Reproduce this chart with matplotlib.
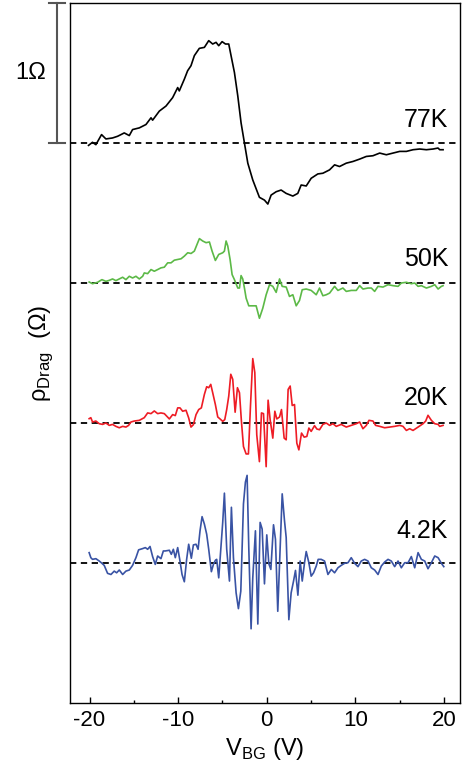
import matplotlib.pyplot as plt
import matplotlib.transforms as mtransforms

plt.rcParams['font.family'] = ['Liberation Sans', 'DejaVu Sans']
plt.rcParams['mathtext.fontset'] = 'custom'
plt.rcParams['mathtext.rm'] = 'Liberation Sans'
plt.rcParams['axes.unicode_minus'] = False

# gate voltage (V) and drag resistivity (Ohm)
v77 = [-20.11, -19.66, -19.28, -18.64, -18.15, -17.40, -16.83, -16.45, -16.08, -15.51,
       -15.14, -14.38, -13.63, -13.06, -12.88, -12.12, -11.37, -10.62, -10.05, -9.87,
       -9.30, -8.93, -8.55, -8.17, -7.61, -7.04, -6.55, -6.10, -5.72, -5.42,
       -5.04, -4.66, -4.29, -4.03, -3.65, -3.27, -2.90, -2.52, -2.14, -1.58,
       -0.83, -0.26, 0.12, 0.49, 1.06, 1.62, 2.19, 2.94, 3.50, 3.88,
       4.45, 5.01, 5.76, 6.33, 7.08, 7.65, 8.21, 8.97, 9.72, 10.48,
       11.23, 11.98, 12.74, 13.49, 14.24, 15.00, 15.75, 16.50, 17.25, 18.01,
       18.76, 19.32, 19.51, 19.89]
r77 = [-0.017, 0.005, -0.012, 0.060, 0.029, 0.036, 0.048, 0.060, 0.072, 0.053,
       0.096, 0.108, 0.132, 0.180, 0.163, 0.228, 0.264, 0.324, 0.396, 0.372,
       0.456, 0.516, 0.552, 0.624, 0.676, 0.683, 0.731, 0.707, 0.719, 0.695,
       0.724, 0.707, 0.707, 0.624, 0.504, 0.336, 0.144, 0.000, -0.144, -0.264,
       -0.388, -0.408, -0.436, -0.372, -0.348, -0.336, -0.360, -0.379, -0.360, -0.300,
       -0.307, -0.252, -0.221, -0.216, -0.192, -0.156, -0.168, -0.144, -0.132, -0.115,
       -0.096, -0.091, -0.072, -0.084, -0.072, -0.060, -0.060, -0.048, -0.043, -0.048,
       -0.043, -0.036, -0.048, -0.048]

v50 = [-20.04, -19.66, -19.09, -18.60, -18.15, -17.77, -17.40, -17.02, -16.64, -16.26,
       -15.89, -15.51, -15.14, -14.76, -14.38, -14.00, -13.82, -13.44, -13.06, -12.69,
       -12.31, -11.94, -11.56, -11.18, -10.80, -10.43, -10.05, -9.67, -9.30, -8.92,
       -8.54, -8.17, -7.79, -7.60, -7.23, -6.85, -6.47, -6.17, -5.80, -5.42,
       -4.97, -4.78, -4.59, -4.40, -4.14, -3.91, -3.65, -3.27, -3.08, -2.90,
       -2.71, -2.52, -2.33, -2.03, -1.58, -1.20, -0.83, -0.45, -0.07, 0.31,
       0.68, 1.06, 1.44, 1.74, 2.19, 2.56, 2.94, 3.32, 3.69, 4.00,
       4.45, 5.01, 5.58, 5.95, 6.33, 6.71, 7.09, 7.65, 8.03, 8.59,
       8.97, 9.53, 10.10, 10.48, 10.85, 11.42, 11.80, 12.17, 12.55, 13.11,
       13.68, 14.24, 14.81, 15.18, 15.75, 16.31, 16.69, 17.07, 17.44, 18.01,
       18.57, 18.95, 19.33, 19.70, 19.89]
r50 = [0.007, -0.005, 0.005, 0.024, 0.012, 0.019, 0.029, 0.017, 0.029, 0.041,
       0.024, 0.048, 0.036, 0.048, 0.029, 0.048, 0.072, 0.067, 0.096, 0.084,
       0.096, 0.108, 0.113, 0.144, 0.144, 0.163, 0.168, 0.173, 0.192, 0.216,
       0.211, 0.228, 0.288, 0.317, 0.300, 0.288, 0.293, 0.228, 0.161, 0.204,
       0.216, 0.228, 0.300, 0.264, 0.168, 0.060, 0.024, -0.036, -0.036, 0.053,
       0.029, -0.036, -0.108, -0.163, -0.163, -0.163, -0.252, -0.180, -0.084, -0.012,
       -0.024, -0.067, 0.029, -0.024, -0.029, -0.096, -0.084, -0.163, -0.125, -0.048,
       -0.043, -0.053, -0.084, -0.036, -0.091, -0.084, -0.072, -0.024, -0.053, -0.036,
       -0.060, -0.053, -0.053, -0.019, -0.043, -0.036, -0.036, -0.060, -0.024, -0.029,
       -0.012, -0.019, -0.024, 0.000, 0.005, -0.005, 0.000, -0.024, -0.019, -0.036,
       -0.024, -0.012, -0.043, -0.024, -0.019]

v20 = [-20.04, -19.85, -19.66, -19.28, -18.90, -18.52, -18.15, -17.77, -17.40, -17.02,
       -16.64, -16.26, -15.89, -15.59, -15.33, -14.95, -14.38, -13.82, -13.44, -13.06,
       -12.69, -12.31, -11.94, -11.56,
       -10.99, -10.62, -10.32, -10.05, -9.79, -9.49, -9.11, -8.81, -8.55, -8.28,
       -7.98, -7.68, -7.38, -7.04, -6.78, -6.55, -6.32, -6.10, -5.80, -5.53,
       -5.27, -4.97, -4.74, -4.52, -4.29, -4.06, -3.84, -3.57, -3.31, -3.08,
       -2.86, -2.63, -2.33, -2.07, -1.84, -1.58, -1.35, -1.13, -0.83, -0.60,
       -0.37, -0.07, 0.15, 0.38, 0.68, 0.91, 1.13, 1.44, 1.66, 1.96,
       2.19, 2.41, 2.64, 2.87, 3.13, 3.39, 3.62, 3.92, 4.22, 4.52,
       4.75, 5.01, 5.39, 5.65, 5.95, 6.33,
       6.71, 7.09, 7.46, 7.84, 8.40, 8.97, 9.53, 10.10, 10.48, 10.85,
       11.23, 11.53, 11.98, 12.28, 12.74, 13.30, 13.87, 14.43, 15.00, 15.37,
       15.75, 16.12, 16.50, 17.07, 17.63, 17.93, 18.19, 18.57, 18.95, 19.33,
       19.51, 19.89]
r20 = [0.031, 0.038, 0.007, 0.014, -0.005, -0.010, 0.000, -0.017, -0.010, -0.024,
       -0.034, -0.024, -0.029, -0.017, 0.007, 0.014, 0.019, 0.038, 0.072, 0.067,
       0.086, 0.067, 0.072, 0.067,
       0.029, 0.060, 0.053, 0.108, 0.108, 0.084, 0.091, 0.036, -0.029, -0.012,
       0.060, 0.096, 0.108, 0.204, 0.259, 0.252, 0.276, 0.216, 0.132, 0.043,
       0.029, 0.012, 0.024, 0.096, 0.192, 0.348, 0.312, 0.077, 0.252, 0.216,
       0.012, -0.168, -0.221, -0.221, 0.120, 0.460, 0.360, -0.084, -0.276, 0.072,
       0.067, -0.312, 0.163, 0.024, -0.108, 0.084, 0.029, 0.043, 0.096, -0.108,
       -0.120, 0.240, 0.264, 0.125, 0.132, -0.144, -0.192, -0.072, -0.101, -0.096,
       -0.036, -0.060, -0.019, -0.043, -0.048, -0.010,
       0.000, -0.017, -0.005, -0.024, -0.010, -0.029, -0.017, -0.005, 0.007, -0.041,
       -0.017, 0.019, 0.014, -0.017, -0.024, -0.034, -0.029, -0.024, -0.017, -0.024,
       -0.053, -0.041, -0.053, -0.029, -0.005, 0.014, 0.055, 0.019, -0.005, -0.010,
       -0.024, -0.017]

v4 = [-20.04, -19.85, -19.66, -19.28, -18.90, -18.60, -18.34, -17.96, -17.58, -17.21,
      -16.94, -16.64, -16.26, -15.89, -15.51, -15.14, -14.76, -14.46, -14.00, -13.70,
      -13.44, -13.17, -12.88, -12.58, -12.31, -11.94, -11.67, -11.45,
      -10.99, -10.77, -10.54, -10.32, -10.05, -9.79, -9.56, -9.30, -9.04, -8.81,
      -8.51, -8.28, -7.98, -7.75, -7.53, -7.30, -7.04, -6.78, -6.55, -6.25,
      -6.02, -5.80, -5.65, -5.42, -5.16, -4.97, -4.78, -4.52, -4.21, -3.99,
      -3.76, -3.46, -3.20, -2.93, -2.63, -2.41, -2.22, -2.03, -1.77, -1.58,
      -1.28, -1.01, -0.75, -0.52, -0.26, 0.00, 0.23, 0.46, 0.76, 0.98,
      1.24, 1.51, 1.74, 2.00, 2.19, 2.49, 2.75, 3.02, 3.24, 3.51,
      3.77, 4.00, 4.26, 4.45, 4.75, 5.01, 5.28, 5.58, 5.80,
      6.14, 6.52, 6.90, 7.28, 7.65, 8.03, 8.40, 8.78, 9.16, 9.53,
      9.91, 10.29, 10.66, 11.04, 11.42, 11.79, 12.17, 12.55, 12.92, 13.30,
      13.68, 14.05, 14.43, 14.81, 15.18, 15.56, 15.94, 16.31, 16.69, 17.07,
      17.44, 17.82, 18.19, 18.57, 18.95, 19.33, 19.70, 19.97]
r4 = [0.074, 0.038, 0.026, 0.031, 0.014, -0.002, -0.017, -0.074, -0.082, -0.058,
      -0.070, -0.050, -0.082, -0.058, -0.050, -0.017, 0.038, 0.094, 0.103, 0.110,
      0.098, 0.118, 0.046, -0.010, 0.050, 0.031, 0.086, 0.086,
      0.091, 0.062, 0.098, 0.038, 0.110, 0.014, -0.082, -0.134, 0.026, 0.134,
      0.034, 0.129, 0.134, 0.098, 0.230, 0.331, 0.278, 0.206, 0.098, -0.062,
      -0.010, 0.019, 0.026, -0.106, 0.122, 0.290, 0.499, 0.098, -0.129, 0.398,
      0.038, -0.213, -0.326, -0.201, 0.422, 0.578, 0.626, 0.110, -0.470, -0.106,
      0.230, -0.436, 0.290, 0.242, -0.149, 0.201, -0.005, -0.046, 0.273, 0.170,
      -0.345, 0.110, 0.494, 0.302, 0.182, -0.405, -0.213, -0.129, -0.053, -0.230,
      0.014, -0.129, 0.002, 0.082, 0.002, -0.094, -0.070, -0.022, 0.026,
      0.026, 0.014, -0.082, -0.046, -0.070, -0.034, -0.017, -0.002, 0.002, 0.038,
      -0.002, -0.026, 0.014, 0.026, 0.014, -0.034, -0.050, -0.082, -0.022, 0.007,
      0.026, 0.014, -0.026, 0.014, -0.034, 0.002, 0.002, 0.046, -0.034, 0.074,
      0.026, 0.014, -0.041, 0.002, 0.050, 0.038, -0.002, -0.026]

curves = [(v77, r77, '77K', '#000000', 3),
          (v50, r50, '50K', '#5cb947', 2),
          (v20, r20, '20K', '#ee1c25', 1),
          (v4, r4, '4.2K', '#3953a4', 0)]
label_lift = [0.08, 0.085, 0.09, 0.14]

fig = plt.figure(figsize=(4.65, 7.72), dpi=100)
ax = fig.add_axes([70/465, 69/772, 390/465, 700/772])

for (v, r, name, col, off), lift in zip(curves, label_lift):
    ax.axhline(off, color='black', lw=1.3, ls=(0, (3.5, 2.5)))
    ax.plot(v, [x + off for x in r], color=col, lw=1.2)
    ax.text(20.45, off + lift, name, ha='right', va='bottom', fontsize=18)

ax.set_xlim(-22.2, 21.8)
ax.set_ylim(-1.0, 4.0)
ax.set_xticks([-20, -10, 0, 10, 20])
ax.set_xticks([-15, -5, 5, 15], minor=True)
ax.set_yticks([])
ax.tick_params(axis='x', direction='in', length=4, width=1, labelsize=16, pad=5)
ax.tick_params(axis='x', which='minor', direction='in', length=2, width=1)
for s in ax.spines.values():
    s.set_linewidth(1.0)

ax.set_xlabel('V$_{\\mathrm{BG}}$ (V)', fontsize=17, labelpad=4)
ax.set_ylabel('ρ$_{\\mathrm{Drag}}$  (Ω)', fontsize=17)
ax.yaxis.set_label_coords(-0.038, 0.5)

# 1 Ohm scale bar
tr = mtransforms.blended_transform_factory(ax.transAxes, ax.transData)
bx = -0.033
ax.plot([bx, bx], [3, 4], color='#555555', lw=1.5, transform=tr, clip_on=False)
ax.plot([bx - 0.02, bx + 0.02], [3, 3], color='#555555', lw=1.5, transform=tr, clip_on=False)
ax.plot([bx - 0.02, bx + 0.02], [4, 4], color='#555555', lw=1.5, transform=tr, clip_on=False)
ax.text(-0.1, 3.5, '1Ω', transform=tr, ha='center', va='center', fontsize=17)

fig.savefig('out.png', dpi=100)
